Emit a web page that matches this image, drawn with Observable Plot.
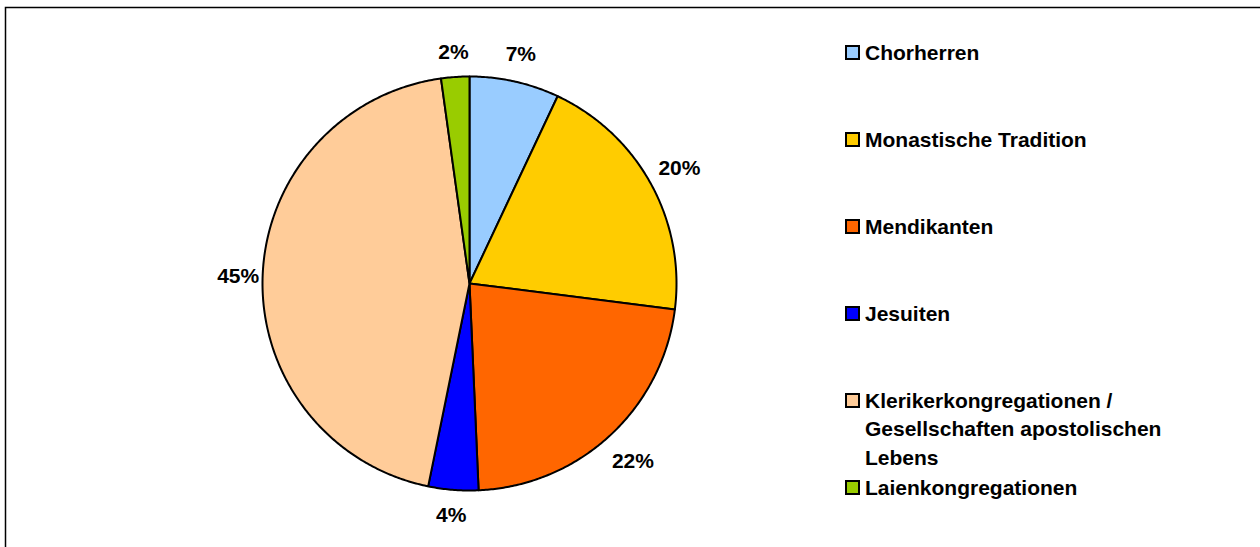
<!DOCTYPE html>
<html>
<head>
<meta charset="utf-8">
<script src="https://cdn.jsdelivr.net/npm/d3@7"></script>
<script src="https://cdn.jsdelivr.net/npm/@observablehq/plot@0.6"></script>
<style>
  html, body { margin: 0; padding: 0; background: #fff; }
  #wrap { position: relative; width: 1260px; height: 547px; overflow: hidden; font-family: "Liberation Sans", Arial, sans-serif; }
  #wrap svg { display: block; }
  .leg-item { position: absolute; left: 845px; font-size: 21px; font-weight: bold; line-height: 28.5px; color: #000; }
  .leg-item .sw { position: absolute; left: 0; top: 6.5px; width: 11px; height: 11px; border: 2px solid #000; }
  .leg-item .tx { position: absolute; left: 20px; top: 0; width: 310px; white-space: normal; }
</style>
</head>
<body>
<div id="wrap"></div>
<script>
// ---- data ----
const categories = [
  "Chorherren",
  "Monastische Tradition",
  "Mendikanten",
  "Jesuiten",
  "Klerikerkongregationen / Gesellschaften apostolischen Lebens",
  "Laienkongregationen"
];
const shares = [7.0, 20.0, 22.3, 3.9, 44.6, 2.2];   // percent
const colors = ["#99CCFF", "#FFCC00", "#FF6600", "#0000FF", "#FFCC99", "#99CC00"];

// ---- build slice outlines in unit-circle coordinates (clockwise from top) ----
const total = d3.sum(shares);
let acc = 0;
const slices = categories.map((c, i) => {
  const a0 = acc / total * 2 * Math.PI;
  acc += shares[i];
  const a1 = acc / total * 2 * Math.PI;
  const n = Math.max(2, Math.ceil((a1 - a0) / (Math.PI / 360)));
  const pts = [{x: 0, y: 0}];
  for (let k = 0; k <= n; k++) {
    const a = a0 + (a1 - a0) * k / n;
    pts.push({x: Math.sin(a), y: Math.cos(a)});
  }
  pts.push({x: 0, y: 0});
  const am = (a0 + a1) / 2;
  const d = 1.115 + 0.05 * Math.abs(Math.sin(2 * am));
  return {cat: c, color: colors[i], pts, lx: d * Math.sin(am), ly: d * Math.cos(am),
          label: d3.format(".0f")(shares[i] / total * 100) + "%"};
});

const font = "Liberation Sans, Arial, sans-serif";

const chart = Plot.plot({
  width: 1260,
  height: 547,
  margin: 0,
  style: {background: "#fff", fontFamily: font},
  x: {domain: [-1, 1], range: [262, 676], axis: null},
  y: {domain: [-1, 1], range: [490, 76], axis: null},
  marks: [
    Plot.frame({stroke: "#000", strokeWidth: 1.5, insetLeft: 5, insetTop: 7, insetRight: -10, insetBottom: -10}),
    ...slices.map(s => Plot.line(s.pts, {
      x: "x", y: "y", fill: s.color, stroke: "#000", strokeWidth: 2,
      strokeLinejoin: "round", strokeLinecap: "round"
    })),
    Plot.text(slices, {
      x: "lx", y: "ly", text: "label",
      fontSize: 21, fontWeight: "bold", fill: "#000", fontFamily: font
    })
  ]
});

const wrap = document.getElementById("wrap");
wrap.appendChild(chart);

// ---- legend ----
const capCenters0 = 52.5, step = 87;
categories.forEach((c, i) => {
  const item = document.createElement("div");
  item.className = "leg-item";
  item.style.top = (capCenters0 + i * step - 14) + "px";
  const sw = document.createElement("div");
  sw.className = "sw";
  sw.style.background = colors[i];
  const tx = document.createElement("div");
  tx.className = "tx";
  tx.textContent = c;
  item.appendChild(sw);
  item.appendChild(tx);
  wrap.appendChild(item);
});
</script>
</body>
</html>
